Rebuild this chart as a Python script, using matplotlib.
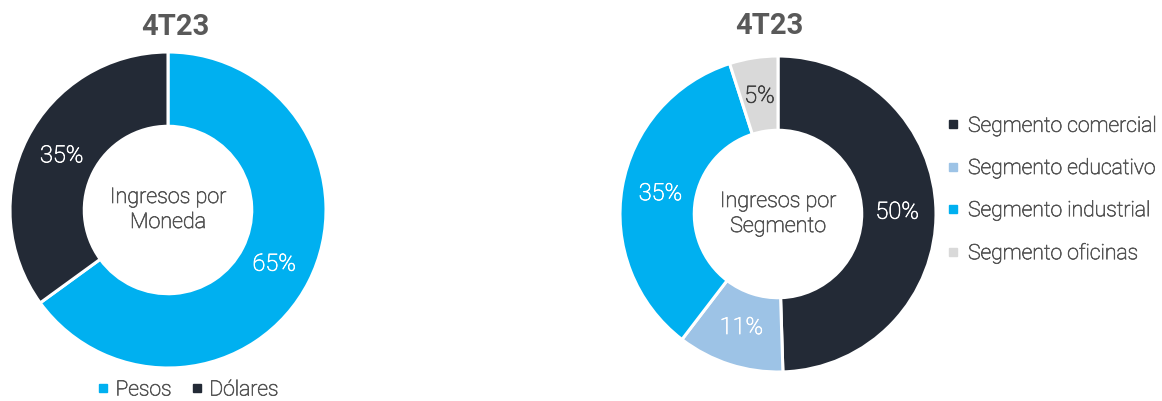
import matplotlib.pyplot as plt
import matplotlib.patheffects as pe
from matplotlib.lines import Line2D

plt.rcParams['font.family'] = ['Roboto', 'DejaVu Sans']

titulo = "4T23"
monedas = ["Pesos", "Dólares"]
pct_moneda = [65, 35]
segmentos = ["Segmento comercial", "Segmento educativo", "Segmento industrial", "Segmento oficinas"]
pct_segmento = [50, 11, 35, 5]

col_moneda = ["#00b0f0", "#232a36"]
col_segmento = ["#232a36", "#9dc3e6", "#00b0f0", "#d9d9d9"]
txt_segmento = ["white", "white", "white", "#404040"]
gris = "#555555"
peso = "light"

W, H = 1162, 401
fig = plt.figure(figsize=(W / 100, H / 100), dpi=100)
R = 158


def grueso(t, c):
    # Roboto Light un poco más gruesa, como en la referencia
    t.set_path_effects([pe.withStroke(linewidth=0.5, foreground=c)])


def donut(cx, cy, valores, colores, etiquetas_col, centro):
    ax = fig.add_axes([(cx - R) / W, (H - cy - R) / H, 2 * R / W, 2 * R / H])
    wedges, texts, autotexts = ax.pie(
        valores, colors=colores, startangle=90, counterclock=False,
        radius=1, autopct=lambda p: f"{p:.0f}%", pctdistance=0.755,
        wedgeprops=dict(width=0.47, edgecolor="white", linewidth=2.2),
        textprops=dict(fontsize=17, fontweight=peso))
    for t, c in zip(autotexts, etiquetas_col):
        t.set_color(c)
        grueso(t, c)
    tc = ax.text(0, 0, centro, ha="center", va="center", fontsize=15.5,
                 fontweight=peso, color=gris, linespacing=1.25)
    grueso(tc, gris)
    ax.set_xlim(-1, 1)
    ax.set_ylim(-1, 1)
    ax.set_aspect("equal")
    ax.axis("off")
    return ax, wedges


# Moneda
ax1, w1 = donut(168, 210, pct_moneda, col_moneda, ["white", "white"], "Ingresos por\nMoneda")
fig.text(175 / W, 1 - 27 / H, titulo, ha="center", va="center", fontsize=21,
         fontweight="bold", color="#595959")
h1 = [Line2D([], [], marker="s", linestyle="", markersize=6, color=c) for c in col_moneda]
leg1 = fig.legend(h1, monedas, loc="center", bbox_to_anchor=(188 / W, 1 - 390 / H), ncol=2,
                  frameon=False, handlelength=0.5, handletextpad=0.35,
                  columnspacing=0.95, prop=dict(weight=peso, size=15.2), labelcolor=gris)
for t in leg1.get_texts():
    grueso(t, gris)

# Segmento
ax2, w2 = donut(778, 214, pct_segmento, col_segmento, txt_segmento, "Ingresos por\nSegmento")
fig.text(769 / W, 1 - 26 / H, titulo, ha="center", va="center", fontsize=21,
         fontweight="bold", color="#595959")
h2 = [Line2D([], [], marker="s", linestyle="", markersize=6, color=c) for c in col_segmento]
leg2 = fig.legend(h2, segmentos, loc="center left", bbox_to_anchor=(929 / W, 1 - 190 / H),
                  frameon=False, handlelength=0.5, handletextpad=0.45, labelspacing=1.1,
                  prop=dict(weight=peso, size=15.2), labelcolor=gris)
for t in leg2.get_texts():
    grueso(t, gris)

fig.savefig("out.png", dpi=100)
